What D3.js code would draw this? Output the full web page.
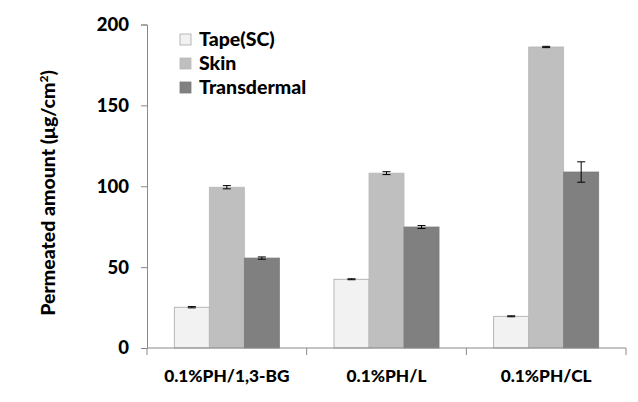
<!DOCTYPE html>
<html><head><meta charset="utf-8">
<script src="https://cdn.jsdelivr.net/npm/d3@7"></script>
<style>body{margin:0;background:#fff;}svg{display:block;font-family:Lato,"Open Sans",sans-serif;font-weight:900;}</style>
</head><body><svg id="c" width="638" height="402"></svg>
<script>
const categories = ["0.1%PH/1,3-BG", "0.1%PH/L", "0.1%PH/CL"];
const seriesNames = ["Tape(SC)", "Skin", "Transdermal"];
const tapeValues = [25.2, 42.5, 19.6];
const tapeErrors = [0.4, 0.3, 0.3];
const skinValues = [99.4, 108.1, 186.1];
const skinErrors = [1.0, 0.9, 0.4];
const transValues = [55.6, 74.8, 108.8];
const transErrors = [0.7, 0.9, 6.3];
const yTicks = [0, 50, 100, 150, 200];
const colors = ["#f2f2f2", "#bfbfbf", "#808080"];
const strokes = ["#a6a6a6", "#b8b8b8", "#7a7a7a"];

const svg = d3.select("#c");
const x0 = 147, x1 = 626, yTop = 24.5, yBot = 348;
const y = d3.scaleLinear().domain([0, 200]).range([yBot, yTop]);
const x = d3.scaleBand().domain(categories).range([x0, x1]).paddingInner(0).paddingOuter(0);
const xs = d3.scaleBand().domain(seriesNames).range([0, x.bandwidth()]).paddingOuter(0.78).paddingInner(0);

const allVals = [tapeValues, skinValues, transValues];
const allErrs = [tapeErrors, skinErrors, transErrors];

// y axis
const yAxis = d3.axisLeft(y).tickValues(yTicks).tickSize(6).tickPadding(12);
const gy = svg.append("g").attr("transform", `translate(${x0},0)`).call(yAxis);
gy.select(".domain").attr("stroke", "#898989");
gy.selectAll(".tick line").attr("stroke", "#898989");
gy.selectAll(".tick text").attr("fill", "#000").style("font-size", "18.5px").style("font-weight", "900").style("font-family", "Lato");

// bars
seriesNames.forEach((s, si) => {
  const g = svg.append("g");
  categories.forEach((c, ci) => {
    const v = allVals[si][ci];
    g.append("rect")
      .attr("x", x(c) + xs(s))
      .attr("y", y(v))
      .attr("width", xs.bandwidth())
      .attr("height", y(0) - y(v))
      .attr("fill", colors[si])
      .attr("stroke", strokes[si])
      .attr("stroke-width", 0.8);
    const e = allErrs[si][ci];
    const cx = x(c) + xs(s) + xs.bandwidth() / 2;
    const hw = 4;
    g.append("line").attr("x1", cx).attr("x2", cx).attr("y1", y(v + e)).attr("y2", y(v - e)).attr("stroke", "#000").attr("stroke-width", 1);
    g.append("line").attr("x1", cx - hw).attr("x2", cx + hw).attr("y1", y(v + e)).attr("y2", y(v + e)).attr("stroke", "#000").attr("stroke-width", 1);
    g.append("line").attr("x1", cx - hw).attr("x2", cx + hw).attr("y1", y(v - e)).attr("y2", y(v - e)).attr("stroke", "#000").attr("stroke-width", 1);
  });
});

// x axis
const gx = svg.append("g").attr("transform", `translate(0,${yBot})`);
gx.append("line").attr("x1", x0).attr("x2", x1).attr("y1", 0).attr("y2", 0).attr("stroke", "#898989");
const boundaries = categories.map(c => x(c)).concat([x1]);
gx.selectAll(".bt").data(boundaries).enter().append("line")
  .attr("x1", d => d).attr("x2", d => d).attr("y1", 0).attr("y2", 7).attr("stroke", "#898989");
gx.selectAll(".lab").data(categories).enter().append("text")
  .attr("x", d => x(d) + x.bandwidth() / 2).attr("y", 34)
  .attr("text-anchor", "middle").style("font-size", "17.3px").attr("fill", "#000").text(d => d);

// y title
const yt = svg.append("text").attr("transform", `translate(55,193) rotate(-90)`)
  .attr("text-anchor", "middle").style("font-size", "19.5px").attr("fill", "#000");
yt.append("tspan").text("Permeated amount (μg/cm");
yt.append("tspan").attr("dy", -7).style("font-size", "12px").text("2");
yt.append("tspan").attr("dy", 7).text(")");

// legend
const leg = svg.append("g");
seriesNames.forEach((s, i) => {
  const ly = 34 + i * 24;
  leg.append("rect").attr("x", 180).attr("y", ly).attr("width", 11).attr("height", 11)
    .attr("fill", colors[i]).attr("stroke", strokes[i]).attr("stroke-width", 0.8);
  leg.append("text").attr("x", 199).attr("y", ly + 12).style("font-size", "19.5px").attr("fill", "#000").text(s);
});
</script></body></html>
